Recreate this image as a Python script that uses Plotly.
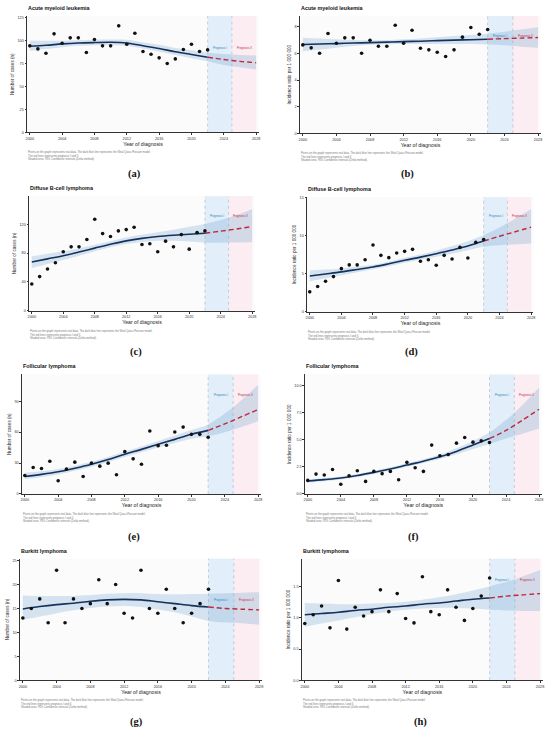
import plotly.graph_objects as go

W, H = 550, 733

# Observation years and model grid (every 2 years)
years_obs = list(range(2000, 2023))
years_model = list(range(2000, 2029, 2))
n_fit = 12  # 2000..2022 is the fitted part, the rest is the projection

# (a) Acute myeloid leukemia, cases
aml_n_obs = [94.4, 91.1, 86.4, 107.5, 97.3, 103.1, 103.1, 87.1, 101.3, 94.4, 94.4, 116.2,
             96.2, 108.2, 88.2, 85.3, 81.3, 75.1, 80.2, 90.4, 96.2, 88.2, 90.0]
aml_n_fit = [94, 95, 96.5, 97.5, 98, 98.3, 97.5, 94.5, 91.5, 88, 85, 82, 79.5, 77.5, 76]
aml_n_lo = [89, 91, 93, 94.5, 95, 95.2, 94.5, 91.5, 88, 84.5, 81, 77.5, 73.5, 71, 68.5]
aml_n_hi = [100, 100, 100, 100.5, 101, 101.3, 101, 98, 95.5, 92, 89.5, 87, 85.5, 84.5, 84]

# (b) Acute myeloid leukemia, incidence
aml_i_obs = [6.63, 6.41, 6.01, 7.48, 6.76, 7.16, 7.16, 6.01, 6.98, 6.53, 6.53, 8.10,
             6.76, 7.73, 6.38, 6.26, 6.08, 5.76, 6.26, 7.21, 7.93, 7.43, 7.78]
aml_i_fit = [6.66, 6.70, 6.73, 6.77, 6.80, 6.84, 6.88, 6.91, 6.95, 6.99, 7.02, 7.06, 7.10, 7.14, 7.18]
aml_i_lo = [6.15, 6.28, 6.42, 6.55, 6.64, 6.68, 6.70, 6.70, 6.70, 6.70, 6.69, 6.66, 6.60, 6.50, 6.42]
aml_i_hi = [7.17, 7.12, 7.06, 7.00, 6.98, 7.00, 7.05, 7.12, 7.20, 7.29, 7.37, 7.47, 7.62, 7.78, 7.95]

# (c) Diffuse B-cell lymphoma, cases
dlbcl_n_obs = [37.2, 47.4, 57.9, 66.7, 81.8, 88.7, 88.7, 98.9, 126.9, 107.1, 103.0, 110.8,
               112.6, 115.9, 92.0, 92.9, 81.8, 96.6, 88.7, 105.7, 85.5, 108.5, 110.8]
dlbcl_n_fit = [67.6, 72, 76.3, 81.5, 86.9, 92.2, 97, 100.5, 103, 104.8, 106.2, 107.6, 110.5, 113.5, 116.8]
dlbcl_n_lo = [59.3, 65, 70.5, 76.5, 82.5, 88, 92.5, 95.5, 97, 97, 96, 94.5, 94.5, 94.8, 95]
dlbcl_n_hi = [75.5, 79, 82.5, 86.5, 91.5, 96.5, 101.5, 105.5, 109, 112.5, 116.5, 120.5, 126, 133, 141]

# (d) Diffuse B-cell lymphoma, incidence
dlbcl_i_obs = [2.62, 3.32, 4.02, 4.63, 5.68, 6.17, 6.17, 6.86, 8.79, 7.43, 7.13, 7.74,
               7.96, 8.22, 6.65, 6.86, 6.12, 7.43, 6.95, 8.48, 7.08, 9.14, 9.53]
dlbcl_i_fit = [4.72, 4.98, 5.25, 5.57, 5.9, 6.32, 6.78, 7.2, 7.65, 8.13, 8.66, 9.31, 9.95, 10.55, 11.15]
dlbcl_i_lo = [4.0, 4.4, 4.8, 5.2, 5.6, 6.0, 6.45, 6.85, 7.25, 7.65, 8.1, 8.55, 8.75, 8.9, 9.0]
dlbcl_i_hi = [5.45, 5.55, 5.7, 5.95, 6.2, 6.6, 7.1, 7.55, 8.05, 8.65, 9.3, 10.1, 11.1, 12.3, 13.5]

# (e) Follicular lymphoma, cases
fl_n_obs = [18.0, 25.7, 24.8, 31.8, 12.9, 24.1, 30.9, 17.0, 29.9, 27.0, 29.9, 18.6,
            41.1, 34.1, 28.9, 61.1, 46.9, 47.3, 60.1, 64.9, 57.9, 57.9, 55.0]
fl_n_fit = [17, 19, 21.5, 25, 28.9, 33.5, 38.6, 43.3, 48.2, 53, 57.9, 61.7, 68, 75, 82]
fl_n_lo = [14.5, 16.5, 19, 22.5, 26.5, 31, 36, 40.5, 45, 49.5, 53.5, 56, 60, 65, 70.5]
fl_n_hi = [20.5, 22, 24.2, 27.5, 31.3, 36, 41.2, 46, 51.5, 56.5, 62, 67.5, 78, 91, 106]

# (f) Follicular lymphoma, incidence
fl_i_obs = [1.25, 1.83, 1.74, 2.26, 0.89, 1.68, 2.14, 1.16, 2.08, 1.87, 2.08, 1.31,
            2.91, 2.42, 2.08, 4.50, 3.52, 3.64, 4.68, 5.20, 4.77, 4.89, 4.74]
fl_i_fit = [1.19, 1.32, 1.47, 1.70, 1.99, 2.3, 2.66, 3.02, 3.42, 3.92, 4.5, 5.1, 5.85, 6.8, 7.8]
fl_i_lo = [1.05, 1.18, 1.33, 1.56, 1.84, 2.15, 2.5, 2.85, 3.22, 3.65, 4.15, 4.6, 5.1, 5.55, 6.0]
fl_i_hi = [1.35, 1.47, 1.62, 1.85, 2.14, 2.46, 2.82, 3.2, 3.63, 4.2, 4.88, 5.65, 6.8, 8.2, 9.8]

# (g) Burkitt lymphoma, cases
bl_n_obs = [13, 15, 17, 12, 23, 12, 17, 15, 16, 21, 16, 20, 14, 13, 23, 15, 14, 19, 15, 12, 14, 16, 19]
bl_n_fit = [14.9, 15.4, 15.8, 16.1, 16.5, 16.8, 16.9, 16.8, 16.4, 16.0, 15.6, 15.3, 15.0, 14.85, 14.7]
bl_n_lo = [12.6, 13.3, 14.0, 14.6, 15.1, 15.4, 15.5, 15.3, 14.8, 14.2, 13.3, 12.4, 12.1, 11.9, 11.6]
bl_n_hi = [17.7, 17.6, 17.6, 17.6, 17.8, 18.1, 18.2, 18.2, 18.0, 17.9, 18.0, 18.1, 18.2, 18.3, 18.4]

# (h) Burkitt lymphoma, incidence
bl_i_obs = [0.91, 1.05, 1.19, 0.84, 1.60, 0.82, 1.17, 1.03, 1.10, 1.45, 1.10, 1.39,
            0.99, 0.92, 1.66, 1.10, 1.05, 1.45, 1.17, 0.96, 1.15, 1.35, 1.64]
bl_i_fit = [1.05, 1.07, 1.09, 1.12, 1.14, 1.17, 1.19, 1.22, 1.24, 1.27, 1.30, 1.32, 1.35, 1.37, 1.39]
bl_i_lo = [0.86, 0.91, 0.96, 1.01, 1.06, 1.10, 1.13, 1.15, 1.16, 1.16, 1.15, 1.13, 1.12, 1.11, 1.11]
bl_i_hi = [1.24, 1.23, 1.22, 1.22, 1.23, 1.24, 1.26, 1.29, 1.33, 1.38, 1.44, 1.51, 1.58, 1.67, 1.77]

x_ticks = [2000, 2004, 2008, 2012, 2016, 2020, 2024, 2028]
prog_start, prog_mid, prog_end = 2022, 2025, 2028

caption = ("Points on the graph represents real data. The dark blue line represents the Weal Quasi-Poisson model.<br>"
           "The red lines represents prognosis I and II.<br>"
           "Shaded area: 95% Confidence intervals (Delta method).")

Y_CASES = "Number of cases (n)"
Y_INC = "Incidence ratio per 1 000 000"

# layout of each panel in pixels: x of 2000 tick, x of 2028 tick, plot top, plot bottom
panels = [
    dict(lab="(a)", title="Acute myeloid leukemia", ytitle=Y_CASES, obs=aml_n_obs, fit=aml_n_fit,
         lo=aml_n_lo, hi=aml_n_hi, yr=[0, 127], yt=[0, 25, 50, 75, 100, 125], fmt="",
         px=(28, 256), py=(15, 132), prog_y=0.76, labx=133, laby=174),
    dict(lab="(b)", title="Acute myeloid leukemia", ytitle=Y_INC, obs=aml_i_obs, fit=aml_i_fit,
         lo=aml_i_lo, hi=aml_i_hi, yr=[0, 8.8], yt=[0, 2, 4, 6, 8], fmt="",
         px=(303, 540), py=(15, 133), prog_y=0.86, labx=408, laby=174),
    dict(lab="(c)", title="Diffuse B-cell lymphoma", ytitle=Y_CASES, obs=dlbcl_n_obs, fit=dlbcl_n_fit,
         lo=dlbcl_n_lo, hi=dlbcl_n_hi, yr=[0, 159], yt=[0, 40, 80, 120], fmt="",
         px=(30, 252), py=(196, 311), prog_y=0.86, labx=135, laby=352),
    dict(lab="(d)", title="Diffuse B-cell lymphoma", ytitle=Y_INC, obs=dlbcl_i_obs, fit=dlbcl_i_fit,
         lo=dlbcl_i_lo, hi=dlbcl_i_hi, yr=[0, 15.1], yt=[0, 5, 10, 15], fmt="",
         px=(310, 533), py=(197, 312), prog_y=0.87, labx=413, laby=352),
    dict(lab="(e)", title="Follicular lymphoma", ytitle=Y_CASES, obs=fl_n_obs, fit=fl_n_fit,
         lo=fl_n_lo, hi=fl_n_hi, yr=[0, 116], yt=[0, 30, 60, 90], fmt="",
         px=(23, 258), py=(375, 495), prog_y=0.86, labx=133, laby=538),
    dict(lab="(f)", title="Follicular lymphoma", ytitle=Y_INC, obs=fl_i_obs, fit=fl_i_fit,
         lo=fl_i_lo, hi=fl_i_hi, yr=[0, 11], yt=[0, 2.5, 5, 7.5, 10], fmt=".1f",
         px=(308, 541), py=(375, 495), prog_y=0.86, labx=415, laby=538),
    dict(lab="(g)", title="Burkitt lymphoma", ytitle=Y_CASES, obs=bl_n_obs, fit=bl_n_fit,
         lo=bl_n_lo, hi=bl_n_hi, yr=[0, 25.4], yt=[0, 5, 10, 15, 20, 25], fmt="",
         px=(21, 259), py=(560, 682), prog_y=0.69, labx=135, laby=724),
    dict(lab="(h)", title="Burkitt lymphoma", ytitle=Y_INC, obs=bl_i_obs, fit=bl_i_fit,
         lo=bl_i_lo, hi=bl_i_hi, yr=[0, 1.95], yt=[0, 0.5, 1.0, 1.5], fmt=".1f",
         px=(305, 542), py=(560, 682), prog_y=0.86, labx=422, laby=724),
]

NAVY = "#16325c"
RED = "#c0283c"
BAND = "rgba(110,165,210,0.28)"
FONT = "Liberation Sans, Arial, sans-serif"

fig = go.Figure()
shapes = []
annotations = []
axes = {}

for i, p in enumerate(panels, start=1):
    xa = "x" if i == 1 else f"x{i}"
    ya = "y" if i == 1 else f"y{i}"

    # x domain from the tick pixel positions, small padding each side
    ppy = (p["px"][1] - p["px"][0]) / 28.0
    x0 = (p["px"][0] - 0.3 * ppy) / W
    x1 = (p["px"][1] + 0.3 * ppy) / W
    y0 = 1 - p["py"][1] / H
    y1 = 1 - p["py"][0] / H

    axes["xaxis" if i == 1 else f"xaxis{i}"] = dict(
        domain=[x0, x1], range=[1999.7, 2028.3], anchor=ya,
        tickvals=x_ticks, ticks="outside", ticklen=2, tickwidth=0.6, tickcolor="#333",
        showline=True, linecolor="#333", linewidth=0.7, showgrid=False, zeroline=False,
        tickfont=dict(size=3.8, color="#333", family=FONT),
        title=dict(text="Year of diagnosis", font=dict(size=5.2, color="#222", family=FONT), standoff=1),
    )
    axes["yaxis" if i == 1 else f"yaxis{i}"] = dict(
        domain=[y0, y1], range=p["yr"], anchor=xa,
        tickvals=p["yt"], tickformat=p["fmt"], ticks="outside", ticklen=2, tickwidth=0.6,
        tickcolor="#333", showline=True, linecolor="#333", linewidth=0.7,
        showgrid=False, zeroline=False,
        tickfont=dict(size=3.8, color="#333", family=FONT),
        title=dict(text=p["ytitle"], font=dict(size=4.6, color="#222", family=FONT), standoff=2),
    )

    # prognosis regions and dotted separators
    shapes.append(dict(type="rect", xref=xa, yref=f"{ya} domain", x0=prog_start, x1=prog_mid,
                       y0=0, y1=1, fillcolor="rgba(205,228,247,0.55)", line_width=0, layer="below"))
    shapes.append(dict(type="rect", xref=xa, yref=f"{ya} domain", x0=prog_mid, x1=prog_end,
                       y0=0, y1=1, fillcolor="rgba(252,226,234,0.55)", line_width=0, layer="below"))
    for xv in (prog_start, prog_mid):
        shapes.append(dict(type="line", xref=xa, yref=f"{ya} domain", x0=xv, x1=xv, y0=0, y1=1,
                           line=dict(color="#9aa8b4", width=0.5, dash="dot"), layer="below"))

    # confidence band
    fig.add_trace(go.Scatter(x=years_model, y=p["lo"], xaxis=xa, yaxis=ya, mode="lines",
                             line=dict(width=0, shape="spline"), showlegend=False, hoverinfo="skip"))
    fig.add_trace(go.Scatter(x=years_model, y=p["hi"], xaxis=xa, yaxis=ya, mode="lines",
                             line=dict(width=0, shape="spline"), fill="tonexty", fillcolor=BAND,
                             showlegend=False, hoverinfo="skip"))
    # fitted model
    fig.add_trace(go.Scatter(x=years_model[:n_fit], y=p["fit"][:n_fit], xaxis=xa, yaxis=ya,
                             mode="lines", line=dict(color=NAVY, width=1.6, shape="spline"),
                             showlegend=False))
    # projection
    fig.add_trace(go.Scatter(x=years_model[n_fit - 1:], y=p["fit"][n_fit - 1:], xaxis=xa, yaxis=ya,
                             mode="lines", line=dict(color=RED, width=1.4, dash="5px,3px", shape="spline"),
                             showlegend=False))
    # observed data
    fig.add_trace(go.Scatter(x=years_obs, y=p["obs"], xaxis=xa, yaxis=ya, mode="markers",
                             marker=dict(color="#111", size=3.6), showlegend=False))

    # text
    annotations.append(dict(text=f"<b>{p['title']}</b>", xref="paper", yref="paper",
                            x=(p["px"][0] - 4) / W, y=1 - (p["py"][0] - 8) / H,
                            xanchor="left", yanchor="middle", showarrow=False,
                            font=dict(size=5.4, color="#111", family=FONT)))
    annotations.append(dict(text=caption, xref="paper", yref="paper", align="left",
                            x=(p["px"][0] - 4) / W, y=1 - (p["py"][1] + 16) / H,
                            xanchor="left", yanchor="top", showarrow=False,
                            font=dict(size=2.7, color="#777", family=FONT)))
    annotations.append(dict(text=f"<b>{p['lab']}</b>", xref="paper", yref="paper",
                            x=p["labx"] / W, y=1 - p["laby"] / H,
                            xanchor="center", yanchor="middle", showarrow=False,
                            font=dict(size=10.5, color="#111", family="Liberation Serif, serif")))
    annotations.append(dict(text="Prognosis I", xref=xa, yref=f"{ya} domain",
                            x=(prog_start + prog_mid) / 2, y=p["prog_y"], showarrow=False,
                            font=dict(size=2.8, color="#2f7fb5", family=FONT)))
    annotations.append(dict(text="Prognosis II", xref=xa, yref=f"{ya} domain",
                            x=(prog_mid + prog_end) / 2, y=p["prog_y"], showarrow=False,
                            font=dict(size=2.8, color=RED, family=FONT)))

fig.update_layout(
    width=W, height=H,
    margin=dict(l=0, r=0, t=0, b=0),
    paper_bgcolor="white",
    plot_bgcolor="#fbfbfb",
    showlegend=False,
    shapes=shapes,
    annotations=annotations,
    **axes,
)

# drop the default page margin so the 550x733 figure fills the window
fig.write_html("out.html", config={"displayModeBar": False},
               post_script="document.body.style.margin='0';")
